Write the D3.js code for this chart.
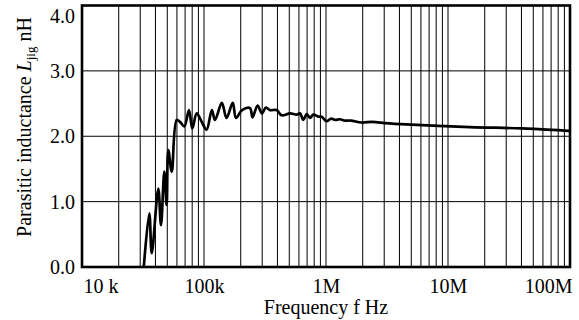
<!DOCTYPE html>
<html>
<head>
<meta charset="utf-8">
<script src="https://cdn.jsdelivr.net/npm/d3@7"></script>
<style>
  body { margin: 0; background: #fff; }
  svg { display: block; }
  svg text { font-family: "Liberation Serif", "DejaVu Serif", "Times New Roman", Times, serif; }
</style>
</head>
<body>
<svg id="chart" width="579" height="320"></svg>
<script>
// frequency (Hz) and measured parasitic inductance (nH)
const freqHz = [
  31.5e3, 35.6e3, 37.3e3, 42.2e3, 44.4e3, 47.3e3, 49.4e3, 51.0e3, 54.4e3,
  59.7e3, 63.6e3, 69.0e3, 75.3e3, 80.2e3, 87.1e3, 95.8e3, 105e3, 116e3,
  123e3, 140e3, 153e3, 172e3, 183e3, 205e3, 238e3, 250e3, 275e3, 299e3,
  322e3, 347e3, 394e3, 433e3, 507e3, 575e3, 612e3, 652e3, 695e3, 740e3,
  787e3, 865e3, 922e3, 1.01e6, 1.1e6, 1.19e6, 1.3e6, 1.43e6, 1.6e6,
  1.96e6, 2.4e6, 3.05e6, 3.68e6, 15.1e6, 40e6, 100e6
];
const inductanceNH = [
  -0.2, 0.82, 0.21, 1.20, 0.64, 1.46, 0.95, 1.79, 1.46,
  2.25, 2.22, 2.15, 2.40, 2.12, 2.35, 2.22, 2.10, 2.40,
  2.25, 2.51, 2.28, 2.51, 2.28, 2.40, 2.43, 2.29, 2.47, 2.35,
  2.44, 2.40, 2.40, 2.32, 2.35, 2.33, 2.35, 2.25, 2.34, 2.28,
  2.33, 2.30, 2.30, 2.23, 2.27, 2.25, 2.26, 2.24, 2.24,
  2.21, 2.22, 2.20, 2.19, 2.14, 2.12, 2.08
];
const xTickValues = [1e4, 1e5, 1e6, 1e7, 1e8];
const xTickLabels = ["10 k", "100k", "1M", "10M", "100M"];
const yTickValues = [0, 1, 2, 3, 4];
const yTickLabels = ["0.0", "1.0", "2.0", "3.0", "4.0"];

const data = freqHz.map((f, i) => ({ f: f, v: inductanceNH[i] }));

const margin = { top: 5.5, right: 9, bottom: 53, left: 82 };
const W = 579, H = 320;
const width = W - margin.left - margin.right;
const height = H - margin.top - margin.bottom;
const FONT = '"Liberation Serif", "DejaVu Serif", "Times New Roman", Times, serif';

const svg = d3.select("#chart");
const g = svg.append("g")
  .attr("transform", `translate(${margin.left},${margin.top})`);

const x = d3.scaleLog().domain([1e4, 1e8]).range([0, width]);
const y = d3.scaleLinear().domain([0, 4]).range([height, 0]);

// vertical grid: every 1..9 step of each decade
g.append("g")
  .selectAll("line")
  .data(x.ticks())
  .enter()
  .append("line")
  .attr("x1", d => x(d)).attr("x2", d => x(d))
  .attr("y1", 0).attr("y2", height)
  .attr("stroke", "#000").attr("stroke-width", 1);

// horizontal grid
g.append("g")
  .selectAll("line")
  .data(yTickValues.slice(1, -1))
  .enter()
  .append("line")
  .attr("x1", 0).attr("x2", width)
  .attr("y1", d => y(d)).attr("y2", d => y(d))
  .attr("stroke", "#000").attr("stroke-width", 1);

// the curve
g.append("clipPath").attr("id", "clip")
  .append("rect").attr("width", width).attr("height", height);

const line = d3.line()
  .x(d => x(d.f))
  .y(d => y(d.v))
  .curve(d3.curveCatmullRom.alpha(0.5));

g.append("path")
  .datum(data)
  .attr("clip-path", "url(#clip)")
  .attr("fill", "none")
  .attr("stroke", "#000")
  .attr("stroke-width", 2.7)
  .attr("stroke-linejoin", "round")
  .attr("d", line);

// frame
g.append("rect")
  .attr("width", width).attr("height", height)
  .attr("fill", "none").attr("stroke", "#000").attr("stroke-width", 2.6);

// x axis labels
const xAxis = g.append("g")
  .attr("transform", `translate(0,${height})`)
  .call(d3.axisBottom(x).tickValues(xTickValues)
    .tickFormat((d, i) => xTickLabels[i]).tickSize(0).tickPadding(0));
xAxis.select(".domain").remove();
xAxis.attr("font-family", FONT).attr("font-size", 20);
xAxis.selectAll("text")
  .attr("y", 26).attr("dy", 0)
  .attr("fill", "#000")
  .attr("text-anchor", (d, i) => i === 0 ? "start" : i === xTickValues.length - 1 ? "end" : "middle")
  .attr("dx", (d, i) => i === 0 ? 1 : i === xTickValues.length - 1 ? 2 : 0);

// y axis labels
const yAxis = g.append("g")
  .call(d3.axisLeft(y).tickValues(yTickValues)
    .tickFormat((d, i) => yTickLabels[i]).tickSize(0).tickPadding(7));
yAxis.select(".domain").remove();
yAxis.attr("font-family", FONT).attr("font-size", 20);
yAxis.selectAll("text")
  .attr("dy", (d, i) => i === yTickValues.length - 1 ? 17 : 6.6)
  .attr("fill", "#000");

// axis titles
svg.append("text")
  .attr("x", margin.left + x(1e6))
  .attr("y", 314)
  .attr("text-anchor", "middle")
  .attr("font-size", 20)
  .text("Frequency f Hz");

const yt = svg.append("text")
  .attr("transform", "translate(31,127) rotate(-90)")
  .attr("text-anchor", "middle")
  .attr("font-size", 20);
yt.append("tspan").text("Parasitic inductance ");
yt.append("tspan").attr("font-style", "italic").text("L");
yt.append("tspan").attr("font-size", 13).attr("dy", 4).text("jig");
yt.append("tspan").attr("dy", -4).text(" nH");
</script>
</body>
</html>
